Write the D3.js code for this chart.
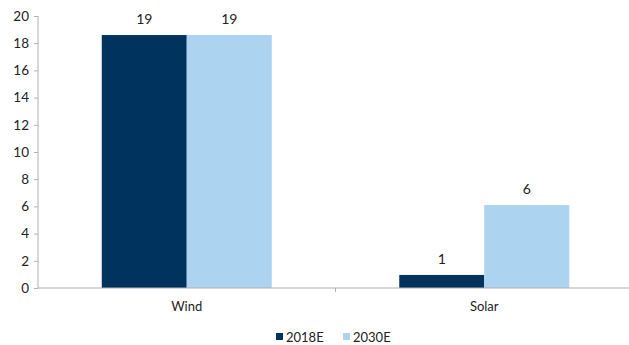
<!DOCTYPE html>
<html><head><meta charset="utf-8">
<script src="https://cdn.jsdelivr.net/npm/d3@7"></script>
<style>body{margin:0;background:#fff}svg{display:block}text{font-family:Lato,"Open Sans",sans-serif;fill:#222}</style>
</head><body><svg id="c" width="629" height="345"></svg>
<script>
const categories = ["Wind", "Solar"];
const seriesNames = ["2018E", "2030E"];
const values2018E = [18.6, 0.96];
const values2030E = [18.6, 6.1];
const dataLabels2018E = ["19", "1"];
const dataLabels2030E = ["19", "6"];
const yTicks = [0, 2, 4, 6, 8, 10, 12, 14, 16, 18, 20];
const colors = ["#00345f", "#acd3ef"];

const svg = d3.select("#c");
const x0 = d3.scaleBand().domain(categories).range([38, 633]).paddingInner(0).paddingOuter(0);
const y = d3.scaleLinear().domain([0, 20]).range([288, 16]);
const barW = 85;
const series = [values2018E, values2030E];
const labels = [dataLabels2018E, dataLabels2030E];

// y axis
const ya = svg.append("g").attr("transform", "translate(38,0)")
  .call(d3.axisLeft(y).tickValues(yTicks).tickSize(4).tickPadding(5));
ya.select(".domain").attr("stroke", "#b0b0b0").attr("d", "M0,16V288");
ya.selectAll(".tick line").attr("stroke", "#b0b0b0");
ya.selectAll(".tick text").style("font-size", "13.5px").attr("fill", "#222");

// bars
series.forEach((vals, si) => {
  categories.forEach((c, ci) => {
    const cx = x0(c) + x0.bandwidth() / 2;
    const bx = cx - barW + si * barW;
    svg.append("rect").attr("x", bx).attr("y", y(vals[ci]))
      .attr("width", barW).attr("height", y(0) - y(vals[ci])).attr("fill", colors[si]);
    svg.append("text").attr("x", bx + barW / 2).attr("y", y(vals[ci]) - 11)
      .attr("text-anchor", "middle").style("font-size", "14px").text(labels[si][ci]);
  });
});

// x axis
const xa = svg.append("g").attr("transform", "translate(0,288)");
xa.append("line").attr("x1", 38).attr("x2", 629).attr("stroke", "#b0b0b0").attr("stroke-width", 1.2);
[x0("Solar")].forEach(t => xa.append("line").attr("x1", t).attr("x2", t).attr("y1", 0).attr("y2", 4).attr("stroke", "#b0b0b0"));
categories.forEach(c => {
  xa.append("text").attr("x", x0(c) + x0.bandwidth() / 2).attr("y", 23)
    .attr("text-anchor", "middle").style("font-size", "13px").text(c);
});

// legend
const legX = [276, 343];
seriesNames.forEach((n, i) => {
  svg.append("rect").attr("x", legX[i]).attr("y", 333).attr("width", 7).attr("height", 7).attr("fill", colors[i]);
  svg.append("text").attr("x", legX[i] + 10).attr("y", 341.5).style("font-size", "13px").text(n);
});
</script></body></html>
